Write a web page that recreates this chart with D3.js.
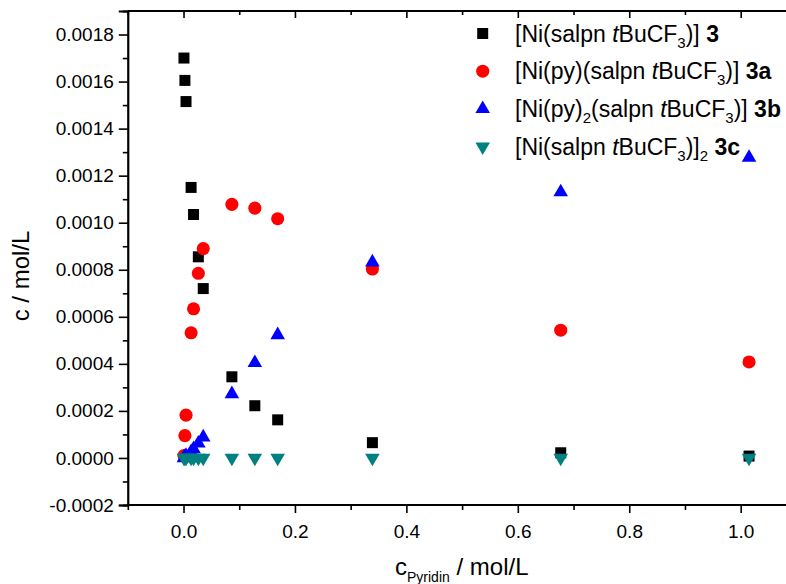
<!DOCTYPE html>
<html><head><meta charset="utf-8">
<script src="https://cdn.jsdelivr.net/npm/d3@7"></script>
<style>
html,body{margin:0;padding:0;background:#fff;}
svg{display:block;font-family:"Liberation Sans",Arial,sans-serif;}
</style></head>
<body><svg id="c" width="786" height="584"></svg>
<script>
// ---- data ----
const xPyridin = [0.0008, 0.0025, 0.0045, 0.0136, 0.018, 0.0266, 0.0354, 0.0868, 0.128, 0.169, 0.339, 0.677, 1.015];
const c3  = [0.00170, 0.001605, 0.001515, 0.00115, 0.001035, 0.000855, 0.00072, 0.000345, 0.000222, 0.000162, 0.000065, 0.000022, 0.000008];
const c3a = [0.00001, 0.000095, 0.000182, 0.000532, 0.000634, 0.000785, 0.00089, 0.001078, 0.001062, 0.001017, 0.000803, 0.000543, 0.000408];
const c3b = [0.0, 0.000005, 0.00001, 0.000026, 0.000038, 0.000062, 0.000088, 0.000272, 0.000404, 0.000523, 0.000832, 0.00113, 0.001277];
const c3c = [0, 0, 0, 0, 0, 0, 0, 0, 0, 0, 0, 0, 0];
const xTicks = [0.0, 0.2, 0.4, 0.6, 0.8, 1.0];
const xMinor = [-0.1, 0.1, 0.3, 0.5, 0.7, 0.9, 1.1];
const yTicks = [-0.0002, 0.0, 0.0002, 0.0004, 0.0006, 0.0008, 0.0010, 0.0012, 0.0014, 0.0016, 0.0018];
const yMinor = [-0.0001, 0.0001, 0.0003, 0.0005, 0.0007, 0.0009, 0.0011, 0.0013, 0.0015, 0.0017, 0.0019];

const series = [
  {vals: c3,  color: "#000000", shape: "square"},
  {vals: c3a, color: "#FF0000", shape: "circle"},
  {vals: c3b, color: "#0000FF", shape: "up"},
  {vals: c3c, color: "#008080", shape: "down"}
];

const svg = d3.select("#c");
const x = d3.scaleLinear().domain([-0.1, 1.1]).range([127.8, 796.4]);
const y = d3.scaleLinear().domain([-0.0002, 0.0019]).range([505, 11]);

function symPath(shape){
  if(shape==="square") return d3.symbol(d3.symbolSquare, 121)();
  if(shape==="circle") return d3.symbol(d3.symbolCircle, 135)();
  return d3.symbol(d3.symbolTriangle, 92)();
}
function symTransform(shape, px, py){
  return `translate(${px},${py})` + (shape==="down" ? " rotate(180)" : "");
}

// axes
const fmtY = v => d3.format(".4f")(v).replace("\u2212","-");
const gx = svg.append("g").attr("transform","translate(0,505)");
gx.call(d3.axisBottom(x).tickValues(xTicks).tickSize(8).tickFormat(d3.format(".1f")));
gx.selectAll("text").attr("font-size",19).attr("font-family","Liberation Sans, Arial").attr("fill","#000").attr("dy","1.16em");
gx.append("g").call(d3.axisBottom(x).tickValues(xMinor).tickSize(5).tickFormat(""));
const gy = svg.append("g").attr("transform","translate(127.8,0)");
gy.call(d3.axisLeft(y).tickValues(yTicks).tickSize(9).tickFormat(fmtY).tickPadding(5));
gy.selectAll("text").attr("font-size",19).attr("font-family","Liberation Sans, Arial").attr("fill","#000");
gy.append("g").call(d3.axisLeft(y).tickValues(yMinor.filter(v=>v<0.00189)).tickSize(5).tickFormat(""));
const gt = svg.append("g").attr("transform","translate(0,11)");
gt.call(d3.axisTop(x).tickValues(xTicks).tickSize(-7).tickFormat(""));
gt.append("g").call(d3.axisTop(x).tickValues(xMinor).tickSize(-4).tickFormat(""));
svg.selectAll(".domain").attr("stroke","#000").attr("stroke-width",1.8);
svg.selectAll(".tick line").attr("stroke","#000").attr("stroke-width",1.6);
gx.selectAll(".domain").attr("d", `M127.8,0H786`);
gt.selectAll(".domain").attr("d", `M127.8,0H786`);

// marks
const plot = svg.append("g");
series.forEach(s=>{
  plot.append("g").selectAll("path").data(xPyridin.map((xv,i)=>[xv,s.vals[i]])).join("path")
    .attr("d", symPath(s.shape))
    .attr("transform", d=>symTransform(s.shape, x(d[0]), y(d[1])))
    .attr("fill", s.color);
});

// legend
const legendRows = [
  {parts:[["[Ni(salpn ",""],["t","i"],["BuCF",""],["3","sub"],[")] ",""],["3","b"]]},
  {parts:[["[Ni(py)(salpn ",""],["t","i"],["BuCF",""],["3","sub"],[")] ",""],["3a","b"]]},
  {parts:[["[Ni(py)",""],["2","sub"],["(salpn ",""],["t","i"],["BuCF",""],["3","sub"],[")] ",""],["3b","b"]]},
  {parts:[["[Ni(salpn ",""],["t","i"],["BuCF",""],["3","sub"],[")]",""],["2","sub"],[" ",""],["3c","b"]]}
];
const lg = svg.append("g");
legendRows.forEach((r,i)=>{
  const cy = 33.5 + i*37.7;
  const s = series[i];
  lg.append("path").attr("d", symPath(s.shape)).attr("transform", symTransform(s.shape, 482.7, cy)).attr("fill", s.color);
  const t = lg.append("text").attr("x",515).attr("y",cy+8).attr("font-size",23).attr("fill","#000");
  let shifted = false;
  r.parts.forEach(([txt,st])=>{
    const ts = t.append("tspan").text(txt);
    if(st==="sub"){ ts.attr("font-size",15).attr("dy",6); shifted=true; }
    else if(shifted){ ts.attr("dy",-6); shifted=false; }
    if(st==="i") ts.attr("font-style","italic");
    if(st==="b") ts.attr("font-weight","bold");
  });
});

// axis titles
const xt = svg.append("text").attr("x",395).attr("y",575).attr("font-size",24).attr("fill","#000");
xt.append("tspan").text("c");
xt.append("tspan").text("Pyridin").attr("font-size",14).attr("dy",7);
xt.append("tspan").text(" / mol/L").attr("dy",-7);
svg.append("text").attr("transform","translate(29,276) rotate(-90)").attr("text-anchor","middle")
  .attr("font-size",24).attr("fill","#000").text("c / mol/L");
</script></body></html>
